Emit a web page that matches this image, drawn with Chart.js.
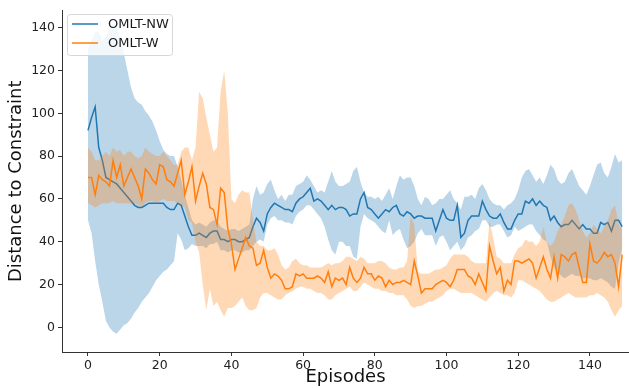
<!DOCTYPE html>
<html>
<head>
<meta charset="utf-8">
<script src="https://cdn.jsdelivr.net/npm/chart.js@4.4.1/dist/chart.umd.min.js"></script>
<style>
  body { margin: 0; background: #fff; }
  #wrap { width: 629px; height: 388px; position: relative; }
</style>
</head>
<body>
<div id="wrap"><canvas id="grafico"></canvas></div>
<script>
// episodios 0..149
const episodes = Array.from({ length: 150 }, (_, i) => i);

const xTicks = [0, 20, 40, 60, 80, 100, 120, 140];
const yTicks = [0, 20, 40, 60, 80, 100, 120, 140];

// OMLT-NW (azul)
const nwMean = [
  92, 98, 103, 84, 78, 70, 69, 68, 67, 65,
  63, 61, 59, 57, 56, 56, 57, 58, 58, 58,
  58, 58, 56, 55, 55, 58, 57, 52, 47, 43,
  43, 44, 43, 42, 44, 45, 45, 41, 41, 40,
  41, 41, 40, 40, 41, 42, 47, 51, 49, 45,
  53, 56, 58, 57, 56, 55, 55, 54, 58, 60,
  61, 63, 65, 59, 60, 59, 57, 55, 57, 55,
  56, 56, 55, 52, 53, 53, 60, 63, 56, 55,
  53, 51, 53, 55, 54, 56, 57, 53, 52, 54,
  53, 51, 52, 52, 51, 51, 51, 45, 50, 55,
  51, 50, 50, 57, 42, 44, 50, 52, 52, 52,
  59, 55, 52, 51, 51, 53, 49, 46, 46, 50,
  53, 53, 59, 58, 60, 57, 59, 57, 56, 50,
  52, 49, 47, 48, 48, 50, 48, 46, 48, 46,
  46, 44, 44, 49, 48, 49, 45, 50, 50, 47
];
const nwUpper = [
  130, 134, 138, 138, 134, 136, 139, 142, 140, 135,
  128, 120, 112, 107, 105, 104, 101, 99, 96, 92,
  87, 83, 81, 80, 80, 75, 69, 62, 56, 50,
  48, 49, 48, 47, 49, 50, 50, 47, 46, 45,
  46, 46, 45, 46, 47, 48, 60, 66, 62, 63,
  67, 69, 64, 60, 62, 59, 62, 62, 66, 67,
  68, 71, 69, 66, 63, 64, 63, 68, 73, 68,
  66, 66, 67, 68, 73, 75, 68, 63, 61, 61,
  60, 61, 59, 62, 65, 60, 66, 71, 69, 70,
  70, 66, 60, 57, 61, 60, 57, 58, 60, 60,
  62, 64, 60, 58, 55, 61, 61, 62, 60, 65,
  67, 64, 60, 58, 57, 57, 55, 57, 58, 60,
  64, 70, 73, 74, 71, 68, 70, 67, 71, 76,
  74, 69, 67, 68, 72, 74, 70, 66, 64, 62,
  66, 71, 76, 77, 72, 70, 75, 81, 77, 78
];
const nwLower = [
  50, 44, 31, 20, 12, 3, 0, -2, -3, -1,
  1, 2, 4, 7, 9, 12, 14, 16, 19, 22,
  24, 26, 27, 29, 31, 44, 41, 36, 37, 39,
  38, 38, 38, 37, 39, 39, 40, 36, 36, 35,
  36, 36, 35, 35, 36, 36, 38, 40, 41, 40,
  48, 51, 52, 50, 50, 49, 49, 48, 52, 54,
  55, 57, 57, 55, 53, 51, 47, 41, 36, 34,
  40, 40, 38, 38, 33, 32, 47, 53, 51, 50,
  49, 47, 45, 44, 50, 43, 45, 46, 41, 37,
  38, 40, 44, 46, 43, 43, 43, 38, 42, 43,
  40, 36, 38, 40, 36, 38, 42, 43, 45, 46,
  50, 50, 47, 47, 48, 48, 45, 42, 43, 47,
  45, 46, 47, 48, 48, 45, 43, 41, 40, 33,
  28, 26, 24, 23, 24, 25, 24, 24, 23, 23,
  23, 22, 22, 23, 22, 21, 19, 18, 30, 37
];

// OMLT-W (laranja)
const wMean = [
  70, 70, 62, 71, 69, 68, 66, 78, 70, 76,
  66, 70, 74, 70, 66, 60, 74, 72, 69, 67,
  76, 75, 69, 68, 66, 72, 78, 62, 68, 75,
  59, 66, 72, 67, 56, 55, 48, 65, 63, 46,
  39, 27, 32, 37, 42, 38, 37, 29, 30, 36,
  28, 23, 25, 24, 22, 18, 18, 19, 25, 24,
  25, 23, 23, 23, 24, 23, 21, 26, 19, 23,
  22, 23, 20, 28, 23, 21, 23, 28, 25, 25,
  22, 24, 23, 19, 22, 20, 21, 21, 22, 21,
  20, 31, 24, 16, 18, 18, 18, 20, 21, 22,
  21, 19, 22, 27, 27, 27, 24, 23, 20, 25,
  21, 17, 38, 31, 25, 28, 17, 22, 20, 31,
  31, 30, 31, 32, 30, 23, 28, 33, 27, 23,
  33, 23, 34, 33, 31, 34, 35, 28, 21, 21,
  39, 31, 30, 32, 35, 33, 34, 30, 19, 34
];
const wUpper = [
  84, 82, 78, 78, 80, 82, 80, 84, 82, 83,
  80, 82, 82, 80, 79, 80, 84, 82, 81, 80,
  80, 82, 80, 78, 76, 76, 82, 84, 84, 78,
  84, 110, 107, 98, 90, 82, 84, 110, 120, 100,
  60, 58, 62, 64, 63, 63, 50, 40, 38, 38,
  36, 36, 37, 34, 29, 27, 28, 31, 32, 30,
  29, 29, 28, 28, 28, 28, 29, 30, 29, 30,
  30, 31, 33, 33, 32, 31, 33, 32, 30, 30,
  30, 31, 31, 30, 28, 27, 27, 28, 28, 31,
  52, 48, 26, 25, 25, 25, 26, 27, 27, 28,
  29, 32, 34, 34, 34, 34, 33, 31, 30, 30,
  30, 30, 50, 42, 33, 32, 30, 30, 30, 34,
  37, 38, 41, 40, 40, 38, 40, 47, 40, 38,
  40, 45, 48, 52, 57, 58, 55, 50, 45, 42,
  44, 48, 46, 44, 47, 50, 55, 57, 48, 46
];
const wLower = [
  58, 57, 56, 57, 58, 58, 58, 59, 58, 58,
  58, 58, 58, 58, 57, 56, 58, 59, 59, 58,
  59, 60, 59, 59, 59, 58, 57, 56, 50, 49,
  40, 35, 20, 8, 18, 10, 12, 8, 5, 9,
  9, 10, 12, 14, 10, 8, 8, 9, 14, 16,
  16, 15, 14, 13, 13, 15, 16, 17, 18, 19,
  19, 18, 18, 17, 16, 16, 15, 13, 13, 15,
  16, 17, 18, 19, 17, 17, 19, 21, 20, 19,
  18, 18, 17, 17, 16, 16, 15, 15, 15, 13,
  10, 9, 10, 10, 11, 12, 12, 13, 14, 15,
  17, 18, 18, 17, 16, 16, 16, 16, 15, 14,
  13, 12, 14, 16, 17, 16, 15, 15, 14, 16,
  22, 22, 21, 20, 19, 18, 17, 15, 13, 12,
  12, 13, 14, 15, 16, 15, 14, 14, 14, 14,
  15, 15, 16, 15, 14, 12, 8, 5, 8, 10
];

const azul = "#1f77b4";
const laranja = "#ff7f0e";
const fonte = "DejaVu Sans";

function pontos(valores) {
  return episodes.map((ep, i) => ({ x: ep, y: valores[i] }));
}

// legenda dentro do grafico, estilo matplotlib
const legendaBox = {
  id: "legendaBox",
  afterDatasetsDraw(chart) {
    const ctx = chart.ctx;
    const itens = chart.data.datasets.filter((d) => d.legenda);
    ctx.save();
    ctx.globalAlpha = 0.8;
    ctx.fillStyle = "#fff";
    ctx.beginPath();
    ctx.roundRect(67.5, 14.5, 105, 41, 3);
    ctx.fill();
    ctx.globalAlpha = 1;
    ctx.strokeStyle = "#d6d6d6";
    ctx.lineWidth = 1;
    ctx.stroke();
    ctx.font = "13px '" + fonte + "'";
    ctx.textBaseline = "middle";
    itens.forEach((d, i) => {
      const y = 24 + i * 19;
      ctx.strokeStyle = d.borderColor;
      ctx.lineWidth = 1.5;
      ctx.beginPath();
      ctx.moveTo(72, y);
      ctx.lineTo(98, y);
      ctx.stroke();
      ctx.fillStyle = "#1a1a1a";
      ctx.fillText(d.label, 108, y + 1);
    });
    ctx.restore();
  },
};

function grafico() {
  const ctx = document.getElementById("grafico").getContext("2d");

  new Chart(ctx, {
    type: "line",
    data: {
      datasets: [
        {
          label: "nw-upper",
          data: pontos(nwUpper),
          borderWidth: 0,
          pointRadius: 0,
          backgroundColor: "rgba(31,119,180,0.3)",
          fill: "+1",
          order: 6,
        },
        {
          label: "nw-lower",
          data: pontos(nwLower),
          borderWidth: 0,
          pointRadius: 0,
          fill: false,
          order: 6,
        },
        {
          label: "OMLT-NW",
          legenda: true,
          data: pontos(nwMean),
          borderColor: azul,
          borderWidth: 1.5,
          pointRadius: 0,
          fill: false,
          order: 5,
        },
        {
          label: "w-upper",
          data: pontos(wUpper),
          borderWidth: 0,
          pointRadius: 0,
          backgroundColor: "rgba(255,127,14,0.3)",
          fill: "+1",
          order: 3,
        },
        {
          label: "w-lower",
          data: pontos(wLower),
          borderWidth: 0,
          pointRadius: 0,
          fill: false,
          order: 3,
        },
        {
          label: "OMLT-W",
          legenda: true,
          data: pontos(wMean),
          borderColor: laranja,
          borderWidth: 1.5,
          pointRadius: 0,
          fill: false,
          order: 4,
        },
      ],
    },
    options: {
      responsive: true,
      maintainAspectRatio: false,
      animation: false,
      layout: { padding: { top: 5, right: 0, left: 0, bottom: 0 } },
      plugins: {
        legend: { display: false },
        tooltip: { enabled: false },
      },
      scales: {
        x: {
          type: "linear",
          min: -7.25,
          max: 150.9,
          afterFit: (axis) => { axis.height = 36; },
          afterBuildTicks: (axis) => { axis.ticks = xTicks.map((v) => ({ value: v })); },
          grid: { drawOnChartArea: false, tickLength: 4, tickColor: "#333" },
          border: { display: true, color: "#333", width: 1 },
          ticks: {
            color: "#222",
            padding: 2,
            maxRotation: 0,
            font: { family: fonte, size: 12.5 },
          },
          title: {
            display: true,
            text: "Episodes",
            color: "#111",
            padding: { top: 0, bottom: 0 },
            font: { family: fonte, size: 18 },
          },
        },
        y: {
          min: -11.5,
          max: 148,
          afterFit: (axis) => { axis.width = 62; },
          afterBuildTicks: (axis) => { axis.ticks = yTicks.map((v) => ({ value: v })); },
          grid: { drawOnChartArea: false, tickLength: 4, tickColor: "#333" },
          border: { display: true, color: "#333", width: 1 },
          ticks: {
            color: "#222",
            padding: 3,
            font: { family: fonte, size: 12.5 },
          },
          title: {
            display: true,
            text: "Distance to Constraint",
            color: "#111",
            padding: { top: 6, bottom: 0 },
            font: { family: fonte, size: 18 },
          },
        },
      },
    },
    plugins: [legendaBox],
  });
}

grafico();
</script>
</body>
</html>
